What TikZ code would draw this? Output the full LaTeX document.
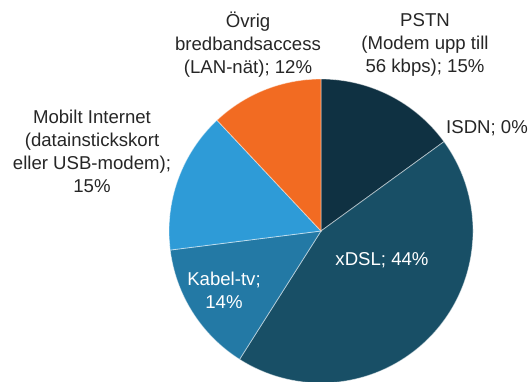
\documentclass[tikz,border=0pt]{standalone}
\usepackage{fontspec}
\setmainfont{Liberation Sans}
\definecolor{pstncol}{HTML}{0F3142}
\definecolor{xdslcol}{HTML}{184F66}
\definecolor{kabelcol}{HTML}{2379A5}
\definecolor{mobilcol}{HTML}{2E9BD7}
\definecolor{ovrigcol}{HTML}{F26B22}
\definecolor{labelcol}{HTML}{262626}
\tikzset{
  slice/.style={draw=white, draw opacity=0.5, line width=0.4pt},
  outlabel/.style={align=center, text=labelcol, inner sep=0pt, font=\fontsize{9.3}{11.5}\selectfont},
  inlabel/.style={outlabel, text=white}
}
\begin{document}
\begin{tikzpicture}[x=0.5pt, y=0.5pt]
        % Area fissa dell'immagine
        \useasboundingbox (0,0) rectangle (529,381);
        \coordinate (c) at (321,150);

        % Le fette della torta (in senso orario dall'alto)
        \fill[pstncol, slice] (c) -- ++(90:152) arc (90:36:152) -- cycle;
        \fill[xdslcol, slice] (c) -- ++(36:152) arc (36:-122.4:152) -- cycle;
        \fill[kabelcol, slice] (c) -- ++(-122.4:152) arc (-122.4:-172.8:152) -- cycle;
        \fill[mobilcol, slice] (c) -- ++(-172.8:152) arc (-172.8:-226.8:152) -- cycle;
        \fill[ovrigcol, slice] (c) -- ++(133.2:152) arc (133.2:90:152) -- cycle;

        % Etichette esterne
        \node[outlabel] (ovrig) at (248,336) {Övrig\\bredbandsaccess\\(LAN-nät); 12\%};
        \node[outlabel] (pstn) at (425,336) {PSTN\\(Modem upp till\\56 kbps); 15\%};
        \node[outlabel] (isdn) at (487,253) {ISDN; 0\%};
        \node[outlabel] (mobil) at (92,229.5) {Mobilt Internet\\(datainstickskort\\eller USB-modem);\\15\%};

        % Etichette interne
        \node[inlabel] (kabel) at (224,91) {Kabel-tv;\\14\%};
        \node[inlabel] (xdsl) at (382,121) {xDSL; 44\%};
    \end{tikzpicture}
\end{document}
